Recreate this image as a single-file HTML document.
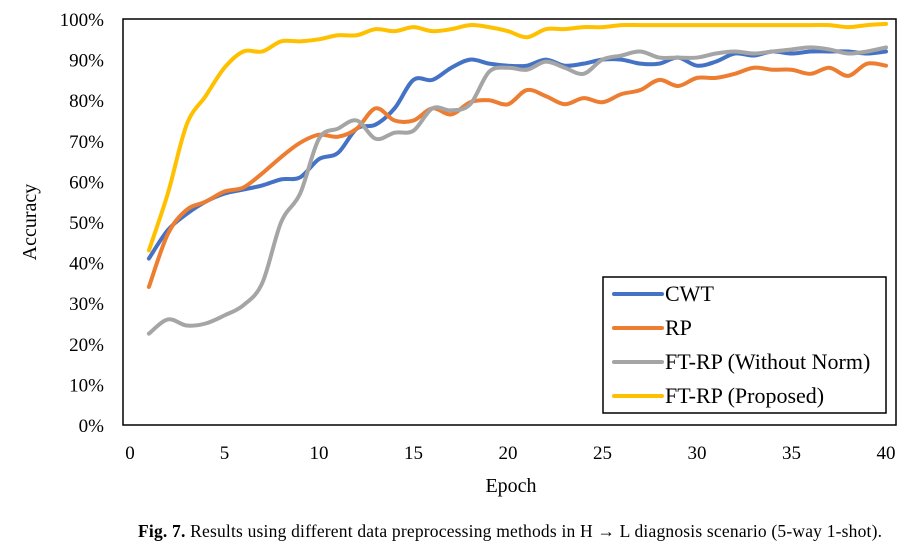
<!DOCTYPE html>
<html><head><meta charset="utf-8"><style>
body{margin:0;background:#fff;width:905px;height:551px;overflow:hidden;font-family:"Liberation Serif",serif}
</style></head><body>
<svg width="905" height="551" id="chart" style="position:absolute;left:0;top:0">
<rect x="123" y="19" width="773" height="406" fill="none" stroke="#000" stroke-width="1.5"/>
<g id="yt"></g><g id="xt"></g><g id="lines"></g>
<text x="36" y="222" transform="rotate(-90 36 222)" text-anchor="middle" font-size="20">Accuracy</text>
<text x="511" y="492" text-anchor="middle" font-size="20">Epoch</text>
<g>
<rect x="603" y="277" width="283" height="136" fill="#fff" stroke="#000" stroke-width="1.5"/>
</g><g id="leg"></g>
<text x="510" y="537" text-anchor="middle" font-size="17.5" textLength="744" lengthAdjust="spacing"><tspan font-weight="bold">Fig. 7.</tspan> Results using different data preprocessing methods in H → L diagnosis scenario (5-way 1-shot).</text>
</svg>
<script>
const epochs=[1,2,3,4,5,6,7,8,9,10,11,12,13,14,15,16,17,18,19,20,21,22,23,24,25,26,27,28,29,30,31,32,33,34,35,36,37,38,39,40];
const cwt=[41,48,52,55,57,58,59,60.5,61,65.5,67,73,74,78,85,85,88,90,89,88.5,88.5,90,88.5,89,90,90,89,89,90.5,88.5,89.5,91.5,91,92,91.5,92,92,92,91.5,92];
const rp=[34,47,53,55,57.5,58.5,62,66,69.5,71.5,71,73,78,75,75,78,76.5,79.5,80,79,82.5,81,79,80.5,79.5,81.5,82.5,85,83.5,85.5,85.5,86.5,88,87.5,87.5,86.5,88,86,89,88.5];
const ftrpNoNorm=[22.5,26,24.5,25,27,29.5,35,50,57,70.5,73,75,70.5,72,72.5,78,77.5,79,87,88,87.5,89.5,88,86.5,90,91,92,90.5,90.5,90.5,91.5,92,91.5,92,92.5,93,92.5,91.5,92,93];
const ftrp=[43,57,74,81,88,92,92,94.5,94.5,95,96,96,97.5,97,98,97,97.5,98.5,98,97,95.5,97.5,97.5,98,98,98.5,98.5,98.5,98.5,98.5,98.5,98.5,98.5,98.5,98.5,98.5,98.5,98,98.5,98.8];
const yTicks=[0,10,20,30,40,50,60,70,80,90,100];
const xTicks=[0,5,10,15,20,25,30,35,40];
const seriesNames=["CWT","RP","FT-RP (Without Norm)","FT-RP (Proposed)"];
const NS="http://www.w3.org/2000/svg";
const X=v=>130+v*18.9, Y=v=>425-v*4.06;
function mk(t,a,p){const e=document.createElementNS(NS,t);for(const k in a)e.setAttribute(k,a[k]);p.appendChild(e);return e;}
const yt=document.getElementById('yt');
yTicks.forEach(v=>{const t=mk('text',{x:104,y:Y(v)+7,'text-anchor':'end','font-size':19},yt);t.textContent=v+'%';

});
const xt=document.getElementById('xt');
xTicks.forEach(v=>{const t=mk('text',{x:X(v),y:459,'text-anchor':'middle','font-size':19},xt);t.textContent=v;

});
function path(vals){const p=epochs.map((e,i)=>[X(e),Y(vals[i])]);let d='M'+p[0][0]+','+p[0][1];
for(let i=0;i<p.length-1;i++){const p0=p[i-1]||p[i],p1=p[i],p2=p[i+1],p3=p[i+2]||p2;
d+=' C'+(p1[0]+(p2[0]-p0[0])/6)+','+(p1[1]+(p2[1]-p0[1])/6)+' '+(p2[0]-(p3[0]-p1[0])/6)+','+(p2[1]-(p3[1]-p1[1])/6)+' '+p2[0]+','+p2[1];}return d;}
const lines=document.getElementById('lines');
const data=[cwt,rp,ftrpNoNorm,ftrp],cols=["#4472C4","#ED7D31","#A5A5A5","#FFC000"],names=["line-cwt","line-rp","line-ftrp-without-norm","line-ftrp-proposed"];
[3,0,1,2].forEach(i=>{const l=mk('path',{d:path(data[i]),fill:'none',stroke:cols[i],'stroke-width':4,'stroke-linecap':'round'},lines);

});
const leg=document.getElementById('leg');
seriesNames.forEach((n,i)=>{const y=294+i*34;
const l=mk('line',{x1:614,y1:y,x2:662,y2:y,stroke:cols[i],'stroke-width':4,'stroke-linecap':'round'},leg);


const t=mk('text',{x:665,y:y+7,'font-size':22},leg);t.textContent=n;

});
</script>
</body></html>
